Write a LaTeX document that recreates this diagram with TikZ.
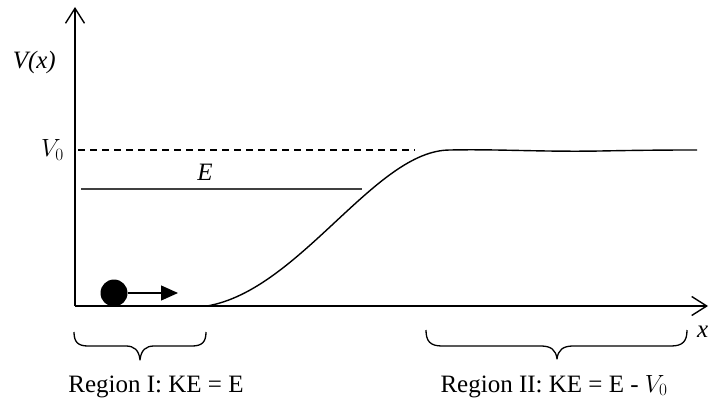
\documentclass[tikz,border=0pt]{standalone}
\usepackage{fontspec}
\setmainfont{Liberation Serif}
\usetikzlibrary{arrows.meta}
\begin{document}
\begin{tikzpicture}[x=1pt,y=-1pt,
  axis/.style={line width=1.4pt,-{Straight Barb[length=15pt,width=19pt,line width=1.4pt]}},
  lbl/.style={font=\fontsize{25}{30}\selectfont,inner sep=0pt},
  brc/.style={line width=1.3pt,line join=round}]
\useasboundingbox (0,0) rectangle (709,404);
% axes
\coordinate (O) at (75,306);
\coordinate (ytop) at (75,7);
\coordinate (xend) at (708,306);
\draw[axis] (O) -- (ytop);
\draw[axis] (O) -- (xend);
% labels on axes
\node[lbl,anchor=east] (Vx) at (56,62) {\itshape V(x)};
\node[lbl,anchor=east] (V0) at (64,150) {$V_0$};
\node[lbl,anchor=west] (xl) at (697,332) {\itshape x};
% V0 dashed line
\coordinate (d1) at (78,150);
\coordinate (d2) at (415,150);
\draw[line width=1.3pt,dash pattern=on 7pt off 5pt] (d1) -- (d2);
% E line
\coordinate (e1) at (81,189);
\coordinate (e2) at (362,189);
\draw[line width=1.8pt,black!75] (e1) -- (e2);
\node[lbl] (E) at (205,172) {\itshape E};
% potential curve
\coordinate (c0) at (207,306);
\coordinate (c1) at (450,150);
\coordinate (c2) at (697,150);
\draw[line width=1.4pt] (c0) .. controls (300,290) and (375,150) .. (c1)
  .. controls (500,149) and (540,152) .. (600,151)
  .. controls (650,150) and (680,150) .. (c2);
% ball and arrow
\node[circle,fill=black,minimum size=27pt,inner sep=0pt] (ball) at (114,293) {};
\coordinate (arr) at (178,293);
\draw[line width=1.3pt,-{Triangle[length=17pt,width=15pt]}] (ball.east) -- (arr);
% brace I
\draw[brc] (74,332) .. controls (74,342) and (78,346) .. (88,346) -- (126,346)
  .. controls (134,346) and (139,350) .. (140,360)
  .. controls (141,350) and (146,346) .. (154,346) -- (192,346)
  .. controls (202,346) and (206,342) .. (206,332);
% brace II
\draw[brc] (426,330) .. controls (426,341) and (430,346) .. (442,346) -- (541,346)
  .. controls (551,346) and (556,350) .. (557,359)
  .. controls (558,350) and (563,346) .. (573,346) -- (671,346)
  .. controls (683,346) and (687,341) .. (687,330);
% region labels
\node[lbl,anchor=base] (r1) at (156,392) {Region I: KE = E};
\node[lbl,anchor=base] (r2) at (554,392) {Region II: KE = E - $V_0$};
\end{tikzpicture}
\end{document}
